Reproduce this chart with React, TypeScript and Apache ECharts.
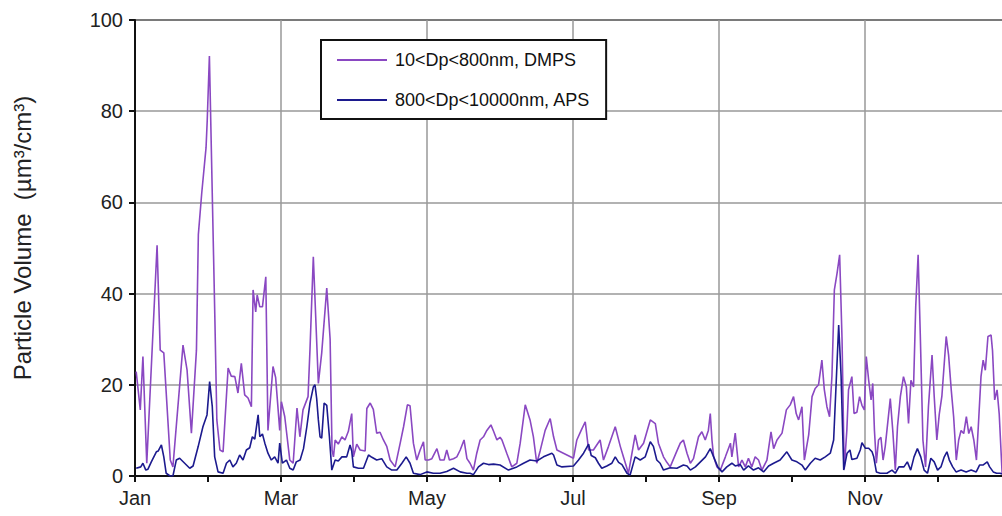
import React, { useEffect, useRef } from "react";
import * as echarts from "echarts";

// Day of year (0 = Jan 1) and particle volume (µm³/cm³)
const dmpsDays = [
  0.5, 2.2, 3.3, 4.9, 9.2, 10.5, 12.0, 14.7, 15.8, 20.0, 21.7, 23.5, 25.6, 26.4, 27.8, 29.6, 30.1, 31.0,
  33.3, 34.1, 35.4, 36.7, 38.8, 40.1, 41.6, 42.9, 44.3, 45.7, 47.1, 48.5, 49.2, 50.3, 50.9, 52.0, 53.1,
  54.5, 55.4, 57.5, 58.6, 60.3, 61.0, 62.4, 64.5, 65.9, 67.5, 68.7, 70.0, 72.1, 72.9, 74.3, 76.4, 77.8,
  79.9, 81.3, 82.1, 82.7, 83.4, 84.7, 86.2, 87.5, 88.9, 90.3, 91.0, 92.4, 93.8, 95.9, 96.6, 98.0, 99.3,
  100.7, 102.1, 103.5, 104.9, 106.3, 108.4, 110.5, 111.9, 113.5, 114.6, 116.0, 117.4, 118.8, 120.2, 120.9,
  122.3, 123.7, 125.8, 127.1, 128.8, 129.9, 131.0, 132.7, 134.1, 135.5, 137.1, 138.3, 139.6, 141.0, 142.4,
  143.8, 145.2, 146.6, 148.3, 149.4, 150.8, 152.1, 152.9, 154.9, 157.0, 159.1, 160.5, 162.6, 164.6, 166.0,
  167.4, 168.8, 170.9, 173.0, 174.4, 175.8, 178.5, 182.7, 184.1, 185.9, 187.6, 189.0, 191.0, 193.8, 195.2,
  197.3, 200.1, 202.2, 203.5, 205.6, 208.4, 209.8, 211.9, 214.7, 216.8, 218.1, 220.2, 221.6, 223.0, 225.8,
  227.2, 228.5, 230.0, 231.4, 232.7, 234.8, 236.2, 237.6, 238.9, 239.7, 240.4, 241.1, 242.5, 243.9, 246.0,
  248.1, 248.7, 250.1, 251.5, 252.9, 254.3, 255.6, 257.0, 258.4, 259.8, 261.2, 263.3, 265.0, 266.1, 267.5,
  269.6, 271.4, 273.0, 274.4, 275.5, 276.5, 277.9, 278.9, 280.7, 282.1, 283.4, 284.8, 286.2, 287.2, 288.3,
  289.4, 290.4, 291.4, 292.5, 293.6, 294.6, 295.5, 296.6, 297.3, 298.7, 299.6, 300.8, 301.9, 302.9, 303.9,
  304.7, 305.7, 306.7, 307.4, 308.1, 308.9, 309.8, 310.8, 311.7, 312.6, 313.6, 314.7, 315.8, 316.8, 317.7,
  318.9, 320.2, 321.4, 322.3, 323.3, 324.4, 325.3, 326.3, 327.2, 328.3, 329.4, 330.6, 332.1, 333.0, 334.1,
  335.1, 336.2, 338.0, 339.0, 340.1, 341.1, 342.2, 343.2, 344.2, 345.3, 346.4, 347.4, 348.4, 349.5, 350.6,
  351.6, 352.5, 353.4, 354.3, 355.4, 356.7, 357.3, 358.2, 359.2, 360.1, 361.3,
];
const dmpsValues = [
  22.9, 14.5, 26.2, 2.8, 50.6, 27.6, 27.0, 3.5, 2.0, 28.7, 23.2, 9.4, 27.6, 53.0, 62.0, 72.0, 78.0, 92.1,
  34.0, 12.3, 5.7, 5.3, 23.7, 21.9, 21.8, 18.2, 24.7, 17.8, 17.1, 15.2, 40.8, 36.0, 39.7, 37.1, 37.1,
  43.7, 10.0, 24.0, 21.6, 10.0, 16.3, 13.0, 3.5, 2.8, 14.9, 8.6, 14.5, 17.4, 27.6, 48.1, 20.3, 27.0,
  41.2, 30.0, 5.7, 4.2, 7.9, 7.0, 8.6, 7.9, 9.8, 13.7, 4.2, 7.0, 5.7, 5.5, 14.8, 16.0, 14.6,
  9.4, 9.6, 7.9, 6.5, 3.5, 2.0, 7.2, 10.8, 15.6, 15.4, 7.2, 3.5, 5.7, 7.5, 3.5,
  3.5, 3.8, 6.0, 3.5, 3.5, 5.7, 3.5, 3.8, 4.2, 5.7, 7.9, 3.8, 2.8, 1.3, 5.0,
  7.9, 8.6, 10.0, 11.2, 9.8, 7.9, 8.5, 7.9, 5.0, 2.0, 2.8, 7.2, 15.6, 12.3, 8.6,
  2.8, 5.5, 10.0, 12.6, 8.6, 5.7, 5.0, 3.9, 7.9, 10.0, 11.9, 5.7, 5.7, 7.9, 3.5,
  6.5, 10.8, 6.5, 4.2, 0.6, 9.0, 5.7, 7.2, 12.3, 11.5, 7.2, 4.2, 3.0, 2.0, 5.5,
  7.2, 7.9, 5.0, 2.8, 3.8, 8.6, 9.7, 7.9, 10.0, 13.7, 7.9, 4.2, 2.0, 1.3, 4.2,
  7.2, 4.2, 9.4, 2.0, 3.5, 2.0, 3.9, 2.0, 4.2, 3.5, 1.3, 3.5, 9.7, 6.0, 7.9,
  9.4, 14.5, 15.6, 17.4, 13.7, 12.3, 15.2, 3.5, 9.0, 17.4, 19.2, 20.0, 25.4, 19.0, 15.2,
  13.0, 22.0, 40.8, 44.4, 48.5, 30.0, 1.5, 10.0, 18.9, 21.8, 13.7, 14.0, 17.4, 15.5, 14.5,
  26.2, 21.0, 16.7, 20.3, 10.0, 2.8, 7.9, 8.5, 3.5, 6.5, 11.5, 17.0, 9.5, 1.3, 10.8,
  17.4, 21.8, 19.5, 11.5, 21.0, 19.5, 37.1, 48.5, 31.0, 7.9, 2.0, 15.2, 26.5, 17.5, 7.9,
  13.5, 17.5, 30.6, 26.5, 18.9, 13.0, 3.5, 7.9, 10.0, 9.3, 13.0, 9.3, 10.8, 7.9, 3.5,
  13.0, 21.8, 25.4, 23.2, 30.6, 30.9, 27.5, 16.7, 18.9, 13.5, 0.6,
];

const apsDays = [
  0.5, 2.4, 3.3, 4.5, 5.4, 6.8, 8.9, 9.7, 11.0, 12.0, 13.0, 14.6, 15.8, 17.2, 18.6, 20.7, 22.8, 24.2,
  26.3, 28.3, 30.0, 31.1, 32.2, 33.2, 34.6, 36.7, 38.1, 39.5, 40.8, 42.2, 43.6, 45.0, 46.4, 47.8, 48.9,
  49.9, 51.3, 52.0, 53.1, 54.1, 55.4, 56.8, 58.2, 59.6, 60.3, 61.4, 63.1, 64.5, 65.9, 67.2, 68.8, 70.2,
  71.6, 72.9, 74.3, 75.0, 75.7, 76.4, 77.1, 77.8, 78.8, 79.9, 81.0, 82.0, 83.4, 84.7, 86.2, 88.2, 89.6,
  90.3, 91.0, 93.1, 95.2, 97.3, 98.7, 100.7, 102.8, 104.9, 107.0, 109.1, 111.2, 113.0, 114.6, 116.0,
  118.8, 121.6, 124.3, 127.1, 129.9, 132.7, 135.5, 138.3, 139.6, 141.0, 143.1, 145.2, 147.3, 149.4,
  152.1, 155.6, 159.1, 161.9, 164.6, 167.4, 170.2, 173.7, 174.4, 175.8, 177.9, 182.7, 184.8, 186.9,
  189.0, 190.1, 191.8, 193.1, 194.5, 196.6, 198.7, 200.1, 201.5, 202.9, 205.0, 206.3, 208.4, 210.5,
  212.6, 214.7, 216.0, 217.4, 218.8, 220.2, 223.0, 225.8, 228.5, 230.0, 231.4, 233.5, 235.6, 237.7,
  239.7, 241.1, 242.8, 244.6, 246.6, 248.7, 250.1, 252.2, 253.6, 255.6, 257.7, 259.8, 261.9, 264.0,
  266.1, 268.8, 271.6, 273.7, 275.8, 277.9, 279.3, 281.4, 283.4, 285.5, 287.6, 289.7, 291.1, 292.2,
  293.2, 294.2, 295.3, 296.7, 297.9, 298.7, 300.8, 302.2, 302.9, 304.3, 305.7, 307.1, 307.8, 308.9,
  310.5, 313.3, 315.4, 316.8, 318.3, 320.4, 321.8, 323.2, 324.6, 326.0, 327.4, 328.8, 330.2, 331.6,
  333.0, 334.4, 335.8, 337.2, 338.3, 339.3, 340.7, 342.1, 344.2, 346.3, 348.4, 350.5, 351.9, 353.3,
  355.1, 356.1, 357.6, 359.0, 360.4, 361.8,
];
const apsValues = [
  1.7, 2.0, 2.8, 1.3, 1.5, 3.1, 5.3, 5.5, 6.8, 4.2, 0.6, 0.0, 0.0, 3.5, 3.9, 2.8, 1.7, 2.2,
  6.4, 10.8, 13.4, 20.7, 15.2, 4.2, 0.9, 0.6, 2.8, 3.5, 2.0, 2.8, 4.6, 3.5, 5.7, 6.2, 8.6,
  8.1, 13.4, 8.6, 9.2, 7.2, 5.0, 3.5, 4.2, 2.8, 7.2, 2.8, 3.5, 1.7, 1.3, 3.1, 3.5, 6.0,
  10.8, 16.0, 19.5, 20.0, 17.0, 12.3, 8.6, 8.3, 16.0, 15.5, 8.6, 1.3, 3.5, 3.3, 4.2, 4.2, 6.8,
  5.5, 2.0, 1.7, 1.7, 4.6, 4.1, 3.5, 3.8, 2.0, 1.3, 1.3, 2.8, 4.2, 2.8, 0.6,
  0.3, 0.9, 0.6, 0.6, 1.0, 1.7, 0.9, 0.6, 0.6, 0.3, 2.0, 2.8, 2.5, 2.6,
  2.4, 1.3, 2.0, 2.8, 3.5, 3.3, 4.2, 5.0, 4.6, 2.4, 2.0, 2.2, 3.5, 5.0,
  7.0, 4.5, 4.0, 2.8, 1.7, 2.2, 2.8, 4.2, 3.0, 2.5, 0.6, 0.2, 4.2, 3.5,
  4.2, 7.5, 6.5, 3.5, 2.8, 1.3, 1.8, 1.7, 2.4, 2.2, 1.3, 2.0, 3.1, 4.2,
  6.0, 4.2, 2.0, 0.9, 2.0, 2.8, 2.2, 2.5, 1.3, 2.2, 1.3, 1.8, 0.9, 2.2,
  2.8, 3.5, 5.3, 3.5, 3.1, 2.4, 1.3, 2.8, 3.9, 3.5, 4.2, 5.0, 7.9, 21.0,
  33.1, 22.0, 1.3, 5.0, 5.7, 3.6, 3.9, 5.7, 7.3, 6.1, 6.1, 5.3, 4.2, 0.9,
  0.6, 0.6, 1.3, 0.6, 2.0, 2.0, 3.1, 1.3, 4.2, 6.0, 4.2, 1.3, 0.6, 3.9,
  3.1, 1.3, 2.0, 4.2, 5.3, 3.5, 2.0, 0.9, 1.3, 0.9, 1.3, 0.9, 2.4, 2.4,
  3.1, 2.0, 0.9, 0.6, 0.6, 0.4,
];

const monthLabels = ["Jan", "Feb", "Mar", "Apr", "May", "Jun", "Jul", "Aug", "Sep", "Oct", "Nov", "Dec"];
const seriesNames = ["10<Dp<800nm, DMPS", "800<Dp<10000nm, APS"];
const yTitle = "Particle Volume  (µm³/cm³)";

const FONT = "'Liberation Sans', Arial, sans-serif";
const MONTH = 365 / 12;

export default function App() {
  const ref = useRef<HTMLDivElement>(null);

  useEffect(() => {
    if (!ref.current) return;
    const chart = echarts.init(ref.current, undefined, { renderer: "svg" });
    const dmps = dmpsDays.map((d, i) => [d, dmpsValues[i]]);
    const aps = apsDays.map((d, i) => [d, apsValues[i]]);
    chart.setOption({
      animation: false,
      backgroundColor: "#ffffff",
      grid: {
        left: 135,
        top: 20,
        bottom: 40,
        right: 9,
        show: true,
        borderColor: "#222",
        borderWidth: 2,
        backgroundColor: "transparent",
      },
      legend: {
        left: 321,
        top: 40,
        orient: "vertical",
        data: seriesNames,
        icon: "rect",
        itemWidth: 50,
        itemHeight: 2,
        itemGap: 22,
        padding: [11, 16, 10, 16],
        borderColor: "#111",
        borderWidth: 2,
        backgroundColor: "#fff",
        textStyle: { fontFamily: FONT, fontSize: 18, lineHeight: 18, color: "#111", padding: [0, 0, 0, 3] },
      },
      xAxis: {
        type: "value",
        min: 0,
        max: 365,
        interval: MONTH * 2,
        axisLine: { show: true, lineStyle: { color: "#111", width: 2 } },
        axisTick: { show: true, length: 6, lineStyle: { color: "#111", width: 2 } },
        minorTick: { show: true, splitNumber: 2, length: 6, lineStyle: { color: "#111", width: 2 } },
        axisLabel: {
          showMaxLabel: false,
          margin: 12,
          fontFamily: FONT,
          fontSize: 20,
          color: "#222",
          formatter: (v: number) => monthLabels[Math.round(v / MONTH) % 12],
        },
        splitLine: { show: true, lineStyle: { color: "#999", width: 1.5 } },
      },
      yAxis: {
        type: "value",
        min: 0,
        max: 100,
        interval: 20,
        axisLine: { show: true, lineStyle: { color: "#111", width: 2 } },
        axisTick: { show: true, length: 6, lineStyle: { color: "#111", width: 2 } },
        axisLabel: { margin: 12, fontFamily: FONT, fontSize: 20, color: "#222" },
        splitLine: { show: true, lineStyle: { color: "#999", width: 1.5 } },
      },
      graphic: [
        {
          type: "text",
          x: 22,
          y: 238,
          rotation: Math.PI / 2,
          style: {
            text: yTitle,
            fontFamily: FONT,
            fontSize: 24,
            fill: "#222",
            textAlign: "center",
            textVerticalAlign: "middle",
          },
        },
      ],
      series: [
        {
          name: seriesNames[0],
          type: "line",
          data: dmps,
          symbol: "none",
          lineStyle: { color: "#8a48c2", width: 1.6 },
          itemStyle: { color: "#8a48c2" },
        },
        {
          name: seriesNames[1],
          type: "line",
          data: aps,
          symbol: "none",
          lineStyle: { color: "#1c1a8e", width: 1.6 },
          itemStyle: { color: "#1c1a8e" },
        },
      ],
    });
    return () => chart.dispose();
  }, []);

  return (
    <div style={{ position: "absolute", left: 0, top: 0, width: 1002, height: 516, overflow: "hidden", background: "#fff" }}>
      <div ref={ref} style={{ width: 1020, height: 516 }} />
    </div>
  );
}
